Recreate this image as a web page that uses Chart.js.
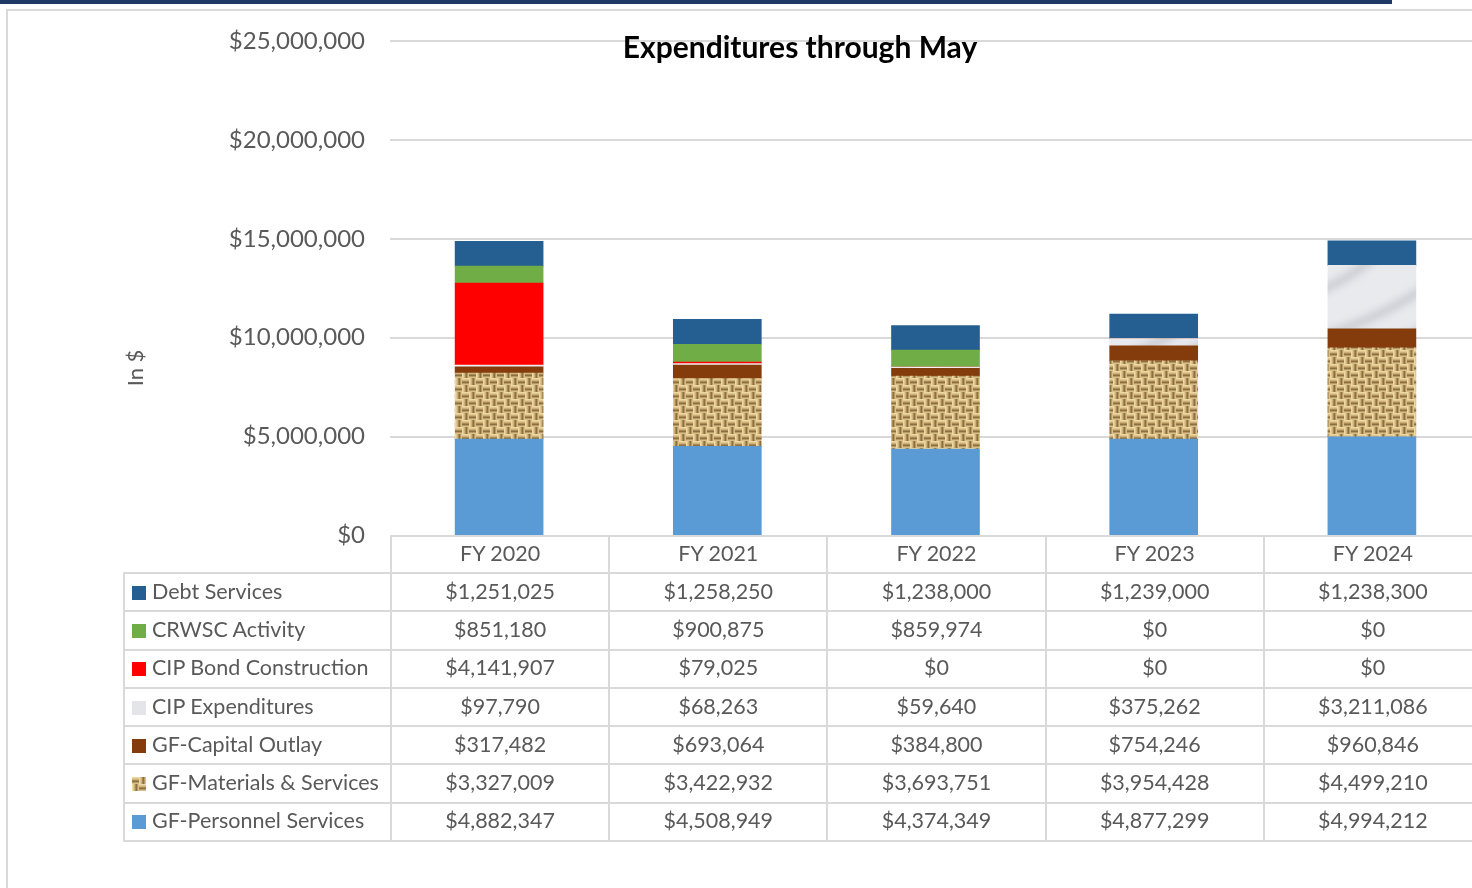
<!DOCTYPE html>
<html lang="en">
<head>
    <meta charset="UTF-8">
    <title>Expenditures through May</title>
    <style>
        body {
            margin: 0;
            background: #ffffff;
            overflow: hidden;
            font-family: Lato, "Open Sans", sans-serif;
        }
        .page {
            position: relative;
            width: 1472px;
            height: 888px;
            overflow: hidden;
        }
        .top-bar {
            position: absolute;
            left: 0; top: 0;
            width: 1392px; height: 4px;
            background: #1f3864;
        }
        .frame {
            position: absolute;
            left: 6px; top: 9px;
            width: 1500px; height: 900px;
            border-top: 2px solid #d9d9d9;
            border-left: 2px solid #d9d9d9;
        }
        #chartCanvas {
            position: absolute;
            left: 0; top: 0;
        }
        .chart-title {
            position: absolute;
            left: 550px; top: 28px;
            width: 500px;
            text-align: center;
            font-weight: bold;
            font-size: 30px;
            line-height: 36px;
            color: #000000;
        }
        .axis-title {
            position: absolute;
            left: 95px; top: 354px;
            width: 80px;
            height: 28px;
            line-height: 28px;
            text-align: center;
            font-size: 22px;
            color: #595959;
            transform: rotate(-90deg);
        }
        #dataTable {
            position: absolute;
            top: 535px;
            border-collapse: collapse;
            table-layout: fixed;
            color: #595959;
            font-size: 21.5px;
        }
        #dataTable td {
            border: 2px solid #d9d9d9;
            text-align: center;
            padding: 0 0 3px 0;
            white-space: nowrap;
            overflow: hidden;
        }
        #dataTable td.label {
            text-align: left;
            padding-left: 7px;
        }
        #dataTable td.blank {
            border: none;
            border-right: 2px solid #d9d9d9;
            border-bottom: 2px solid #d9d9d9;
        }
        .key {
            display: inline-block;
            width: 14px; height: 14px;
            margin-right: 6px;
            vertical-align: -1px;
        }
    </style>
</head>
<body>
<div class="page">
    <div class="top-bar"></div>
    <div class="frame"></div>
    <canvas id="chartCanvas" width="1482" height="575"></canvas>
    <div class="chart-title">Expenditures through May</div>
    <div class="axis-title">In $</div>
    <table id="dataTable"></table>
</div>

<script src="https://cdn.jsdelivr.net/npm/chart.js"></script>
<script>
    const categories = ['FY 2020', 'FY 2021', 'FY 2022', 'FY 2023', 'FY 2024'];

    const debtServices = [1251025, 1258250, 1238000, 1239000, 1238300];
    const crwscActivity = [851180, 900875, 859974, 0, 0];
    const cipBondConstruction = [4141907, 79025, 0, 0, 0];
    const cipExpenditures = [97790, 68263, 59640, 375262, 3211086];
    const gfCapitalOutlay = [317482, 693064, 384800, 754246, 960846];
    const gfMaterials = [3327009, 3422932, 3693751, 3954428, 4499210];
    const gfPersonnel = [4882347, 4508949, 4374349, 4877299, 4994212];

    const yMax = 25000000;
    const yStep = 5000000;

    // burlap-like weave for GF-Materials & Services
    function makeBurlap() {
        const c = document.createElement('canvas');
        c.width = 14; c.height = 14;
        const g = c.getContext('2d');
        const shades = ['#ecd8a0', '#e0c890', '#cdb07a', '#a98a55', '#8c6f40', '#b89a64', '#d8be88'];
        for (let y = 0; y < 14; y++) {
            for (let x = 0; x < 14; x++) {
                const bx = Math.floor(x / 7), by = Math.floor(y / 7);
                const horiz = (bx + by) % 2 === 0;
                g.fillStyle = horiz ? shades[y % 7] : shades[x % 7];
                g.fillRect(x, y, 1, 1);
            }
        }
        return c;
    }

    // light grey marble for CIP Expenditures
    function makeMarble() {
        const c = document.createElement('canvas');
        c.width = 120; c.height = 120;
        const g = c.getContext('2d');
        g.fillStyle = '#e8eaee';
        g.fillRect(0, 0, 120, 120);
        g.filter = 'blur(4px)';
        g.strokeStyle = 'rgba(140,142,148,0.45)';
        g.lineWidth = 6;
        const streaks = [[-10, 100, 130, 30], [0, 130, 130, 70], [-10, 55, 80, -10], [30, 130, 130, 100]];
        streaks.forEach(s => {
            g.beginPath();
            g.moveTo(s[0], s[1]);
            g.quadraticCurveTo((s[0] + s[2]) / 2 + 10, (s[1] + s[3]) / 2 + 12, s[2], s[3]);
            g.stroke();
        });
        g.strokeStyle = 'rgba(255,255,255,0.8)';
        g.lineWidth = 8;
        g.beginPath();
        g.moveTo(-10, 20); g.lineTo(130, 0);
        g.stroke();
        return c;
    }

    const burlapTile = makeBurlap();
    const marbleTile = makeMarble();
    const ctx = document.getElementById('chartCanvas').getContext('2d');
    const burlap = ctx.createPattern(burlapTile, 'repeat');
    const marble = ctx.createPattern(marbleTile, 'repeat');

    // bottom to top stacking order
    const series = [
        {label: 'GF-Personnel Services', data: gfPersonnel, color: '#5b9bd5', key: '#5b9bd5'},
        {label: 'GF-Materials & Services', data: gfMaterials, color: burlap, key: 'url(' + burlapTile.toDataURL() + ')'},
        {label: 'GF-Capital Outlay', data: gfCapitalOutlay, color: '#843c0c', key: '#843c0c'},
        {label: 'CIP Expenditures', data: cipExpenditures, color: marble, key: '#e4e5e9'},
        {label: 'CIP Bond Construction', data: cipBondConstruction, color: '#ff0000', key: '#ff0000'},
        {label: 'CRWSC Activity', data: crwscActivity, color: '#70ad47', key: '#70ad47'},
        {label: 'Debt Services', data: debtServices, color: '#255e91', key: '#255e91'}
    ];

    const chart = new Chart(ctx, {
        type: 'bar',
        data: {
            labels: categories,
            datasets: series.map(s => ({
                label: s.label,
                data: s.data,
                backgroundColor: s.color,
                borderWidth: 0,
                barThickness: 88
            }))
        },
        options: {
            responsive: false,
            animation: false,
            devicePixelRatio: 1,
            layout: {padding: {top: 41, bottom: 30, left: 0, right: 1}},
            plugins: {
                legend: {display: false},
                tooltip: {enabled: false}
            },
            scales: {
                x: {
                    stacked: true,
                    display: false
                },
                y: {
                    stacked: true,
                    min: 0,
                    max: yMax,
                    afterFit: (scale) => { scale.width = 390; },
                    border: {display: false},
                    grid: {color: '#d9d9d9', lineWidth: 2, drawTicks: false},
                    ticks: {
                        stepSize: yStep,
                        padding: 25,
                        color: '#595959',
                        font: {family: 'Lato', size: 24},
                        callback: v => '$' + Number(v).toLocaleString('en-US')
                    }
                }
            }
        }
    });

    // data table under the plot, lined up with the category columns
    const area = chart.chartArea;
    const colW = (area.right - area.left) / categories.length;
    const tableLeft = 123;
    const table = document.getElementById('dataTable');
    table.style.left = tableLeft + 'px';
    table.style.width = (area.right - tableLeft) + 'px';

    const colgroup = document.createElement('colgroup');
    const firstCol = document.createElement('col');
    firstCol.style.width = (area.left - tableLeft) + 'px';
    colgroup.appendChild(firstCol);
    categories.forEach(() => {
        const col = document.createElement('col');
        col.style.width = colW + 'px';
        colgroup.appendChild(col);
    });
    table.appendChild(colgroup);

    const head = document.createElement('tr');
    head.style.height = '37px';
    head.innerHTML = '<td class="blank"></td>' + categories.map(c => '<td>' + c + '</td>').join('');
    table.appendChild(head);

    series.slice().reverse().forEach(s => {
        const tr = document.createElement('tr');
        tr.style.height = '38.3px';
        const keyStyle = s.key.startsWith('url') ? 'background-image:' + s.key : 'background:' + s.key;
        tr.innerHTML = '<td class="label"><span class="key" style="' + keyStyle + '"></span>' + s.label + '</td>' +
            s.data.map(v => '<td>$' + v.toLocaleString('en-US') + '</td>').join('');
        table.appendChild(tr);
    });
</script>

</body>
</html>
